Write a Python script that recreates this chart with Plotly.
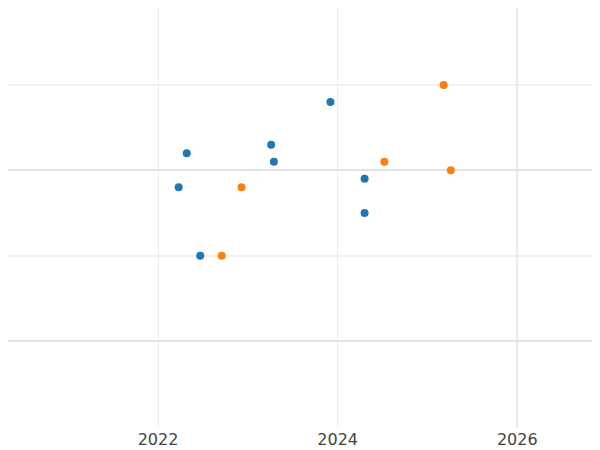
import plotly.graph_objects as go

blue_x = [2022.32, 2022.23, 2022.47, 2023.26, 2023.29, 2023.92, 2024.30, 2024.30]
blue_y = [3.2, 2.8, 2.0, 3.3, 3.1, 3.8, 2.9, 2.5]
orange_x = [2022.71, 2022.93, 2024.52, 2025.18, 2025.26]
orange_y = [2.0, 2.8, 3.1, 4.0, 3.0]
x_ticks = [2022, 2024, 2026]

fig = go.Figure()
fig.add_trace(go.Scatter(x=blue_x, y=blue_y, mode="markers",
                         marker=dict(color="#1f77b4", size=8)))
fig.add_trace(go.Scatter(x=orange_x, y=orange_y, mode="markers",
                         marker=dict(color="#ff7f0e", size=8)))

fig.add_vline(x=2026, line=dict(color="#e0e0e0", width=2), layer="below")

fig.update_layout(
    width=600, height=450,
    showlegend=False,
    plot_bgcolor="white", paper_bgcolor="white",
    margin=dict(l=0, r=0, t=0, b=30),
    font=dict(family="DejaVu Sans", size=16, color="#444"),
    xaxis=dict(range=[2020.33, 2027.01], tickvals=x_ticks,
               gridcolor="#eeeeee", zeroline=False, showline=False),
    yaxis=dict(range=[-0.02, 4.902], tickvals=[1, 3], showticklabels=False,
               gridcolor="#e3e3e3", gridwidth=1.5, zeroline=False,
               minor=dict(tickvals=[2, 4], showgrid=True, gridcolor="#f0f0f0")),
)

fig.write_html("out.html")
